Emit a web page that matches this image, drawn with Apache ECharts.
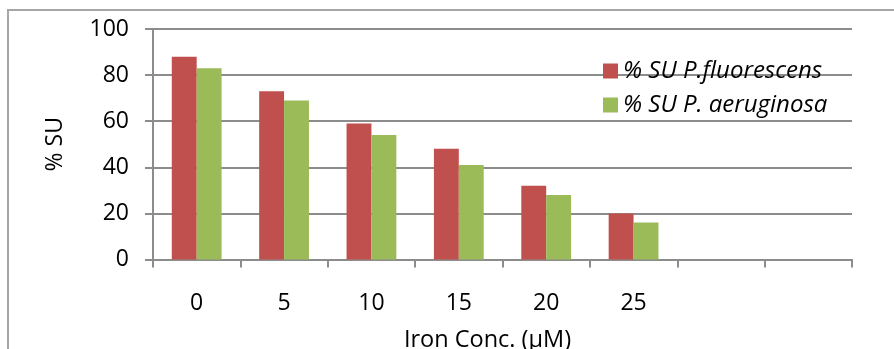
<!DOCTYPE html>
<html>
<head>
<meta charset="utf-8">
<script src="https://cdn.jsdelivr.net/npm/echarts@6/dist/echarts.min.js"></script>
<style>
html,body{margin:0;padding:0;background:#fff;}
#c{width:894px;height:349px;}
</style>
</head>
<body>
<div id="c"></div>
<script>
const categories = ['0', '5', '10', '15', '20', '25', '', ''];
const fluorescens = [88, 73, 59, 48, 32, 20];
const aeruginosa = [83, 69, 54, 41, 28, 16];
const yTicks = { min: 0, max: 100, interval: 20 };
const seriesNames = ['% SU P.fluorescens', '% SU P. aeruginosa'];

const FONT = 'Open Sans';
const chart = echarts.init(document.getElementById('c'), null, { renderer: 'canvas' });
chart.setOption({
  animation: false,
  backgroundColor: '#fff',
  graphic: [{
    type: 'rect',
    shape: { x: 8, y: 10, width: 900, height: 400 },
    style: { fill: 'none', stroke: '#a6a6a6', lineWidth: 2 },
    silent: true
  }],
  grid: { left: 153, right: 42, top: 29, bottom: 89.5, outerBoundsMode: 'none', containLabel: false },
  legend: {
    orient: 'vertical',
    left: 598,
    top: 54,
    itemWidth: 15,
    itemHeight: 15,
    itemGap: 10,
    icon: 'rect',
    textStyle: { fontFamily: FONT, fontSize: 24, fontStyle: 'italic', color: '#000' },
    data: seriesNames
  },
  xAxis: {
    type: 'category',
    data: categories,
    name: 'Iron Conc. (µM)',
    nameLocation: 'middle',
    nameGap: 69,
    nameTextStyle: { fontFamily: FONT, fontSize: 23.5, color: '#000', padding: [0, 30, 0, 0] },
    axisLine: { lineStyle: { color: '#8c8c8c', width: 2 } },
    axisTick: { show: true, interval: 0, length: 8, lineStyle: { color: '#8c8c8c', width: 2 } },
    axisLabel: { fontFamily: FONT, fontSize: 23, color: '#000', margin: 32, interval: 0 },
    splitLine: { show: false }
  },
  yAxis: {
    type: 'value',
    min: yTicks.min,
    max: yTicks.max,
    interval: yTicks.interval,
    name: '% SU',
    nameLocation: 'middle',
    nameGap: 86,
    nameRotate: 90,
    nameTextStyle: { fontFamily: FONT, fontSize: 23, color: '#000' },
    axisLine: { show: true, lineStyle: { color: '#8c8c8c', width: 2 } },
    axisTick: { show: true, length: 8, lineStyle: { color: '#8c8c8c', width: 2 } },
    axisLabel: { fontFamily: FONT, fontSize: 23, color: '#000', margin: 24 },
    splitLine: { show: true, lineStyle: { color: '#8c8c8c', width: 2 } }
  },
  series: [
    { name: seriesNames[0], type: 'bar', data: fluorescens, barGap: '0%', barCategoryGap: '43%', itemStyle: { color: '#C0504D' } },
    { name: seriesNames[1], type: 'bar', data: aeruginosa, barGap: '0%', barCategoryGap: '43%', itemStyle: { color: '#9BBB59' } }
  ]
});
</script>
</body>
</html>
